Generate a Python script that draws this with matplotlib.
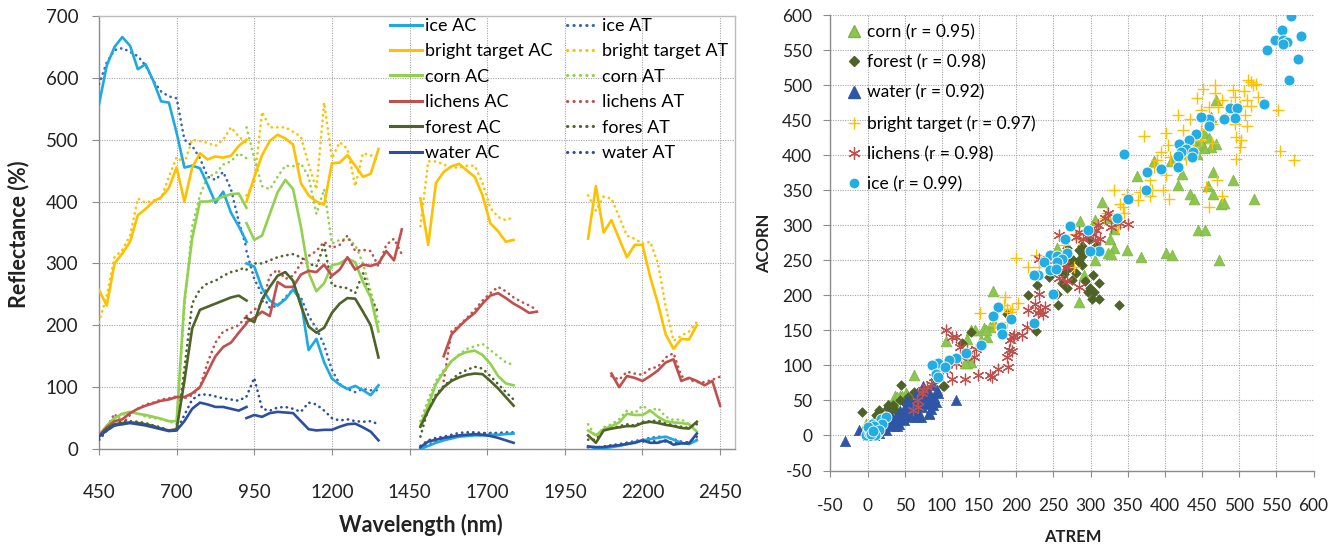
import numpy as np
import matplotlib
matplotlib.use('Agg')
import matplotlib.pyplot as plt
from matplotlib.lines import Line2D

plt.rcParams['font.family'] = ['Lato', 'DejaVu Sans']
plt.rcParams['axes.unicode_minus'] = False

N = np.nan
# ---------------- left chart: wavelength grids per detector segment ----------------
wl_a = list(range(450, 926, 25))     # 20 points
wl_b = list(range(925, 1426, 25))    # 21 points
wl_c = list(range(1485, 1861, 25))   # 16 points
wl_d = list(range(2025, 2451, 25))   # 18 points

ice_ac = ([557, 620, 650, 666, 652, 614, 622, 595, 562, 560, 511, 455, 458, 454, 427, 398, 416, 382, 360, 335]
          + [300, 295, 260, 240, 232, 242, 258, 240, 160, 178, 140, 114, 104, 97, 102, 95, 87, 103, N, N, N]
          + [0, 5, 10, 14, 17, 20, 21, 22, 22, 23, 23, 24, 25, N, N, N]
          + [4, 2, 1, 3, 5, 8, 11, 14, 16, 18, 20, 15, 10, 8, 14, N, N, N])
ice_at = ([590, 625, 645, 648, 642, 635, 620, 595, 578, 570, 567, 500, 490, 470, 440, 435, 448, 420, 368, 325]
          + [320, 275, 250, 228, 232, 245, 258, 245, 215, 195, 168, 128, 105, 97, 92, 97, 95, 95, N, N, N]
          + [2, 7, 12, 16, 19, 22, 23, 24, 25, 26, 26, 27, 27, N, N, N]
          + [3, 3, 3, 5, 7, 10, 13, 15, 18, 20, 19, 16, 12, 10, 15, N, N, N])
bt_ac = ([257, 232, 300, 316, 335, 378, 388, 400, 407, 422, 455, 400, 455, 478, 468, 473, 471, 474, 490, 500]
         + [400, 440, 475, 498, 508, 502, 492, 430, 410, 400, 395, 462, 463, 475, 458, 440, 445, 485, N, N, N]
         + [405, 330, 430, 448, 457, 461, 450, 440, 410, 365, 352, 335, 338, N, N, N]
         + [340, 425, 350, 370, 340, 310, 330, 330, 278, 235, 185, 162, 178, 177, 200, N, N, N])
bt_at = ([205, 248, 310, 322, 345, 405, 398, 402, 405, 440, 472, 462, 500, 498, 495, 490, 500, 520, 505, 495]
         + [410, 430, 545, 520, 520, 520, 513, 505, 460, 420, 560, 470, 496, 485, 425, 478, 475, 465, N, N, N]
         + [360, 465, 465, 460, 455, 455, 458, 458, 430, 390, 375, 370, 375, N, N, N]
         + [410, 385, 408, 405, 375, 345, 340, 332, 335, 300, 230, 175, 183, 190, 205, N, N, N])
corn_ac = ([22, 38, 50, 57, 60, 57, 55, 52, 49, 45, 45, 240, 340, 400, 400, 403, 408, 412, 413, 390]
           + [365, 338, 345, 380, 415, 435, 420, 360, 285, 255, 268, 297, 300, 308, 302, 270, 245, 190, N, N, N]
           + [38, 70, 105, 125, 142, 152, 157, 159, 152, 138, 118, 106, 103, N, N, N]
           + [30, 22, 32, 37, 43, 57, 55, 55, 62, 52, 45, 43, 42, 40, 28, N, N, N])
corn_at = ([20, 35, 45, 55, 60, 58, 52, 50, 48, 45, 40, 230, 360, 410, 440, 445, 460, 465, 478, 470]
           + [520, 470, 425, 420, 440, 458, 457, 462, 440, 380, 420, 332, 338, 340, 330, 300, 255, 205, N, N, N]
           + [45, 80, 110, 128, 142, 153, 162, 166, 170, 160, 150, 140, 136, N, N, N]
           + [40, 20, 35, 40, 48, 62, 58, 70, 62, 66, 52, 47, 48, 40, 34, N, N, N])
lich_ac = ([22, 35, 45, 48, 58, 65, 70, 74, 78, 80, 84, 84, 90, 100, 125, 150, 165, 172, 188, 203]
           + [205, 212, 222, 215, 270, 262, 262, 282, 288, 286, 298, 280, 290, 310, 290, 298, 296, 300, 320, 305, 355]
           + [N, N, N, 150, 185, 198, 210, 220, 235, 248, 252, 244, 235, 228, 220, 222]
           + [N, N, N, 122, 100, 118, 115, 110, 118, 127, 140, 145, 110, 115, 110, 103, 110, 70])
lich_at = ([25, 35, 57, 40, 55, 65, 72, 75, 80, 82, 85, 82, 87, 100, 140, 172, 190, 195, 200, 215]
           + [215, 225, 235, 280, 290, 275, 280, 300, 312, 320, 335, 325, 330, 345, 320, 322, 320, 295, 330, 340, 315]
           + [N, N, N, 110, 190, 200, 212, 225, 240, 252, 262, 255, 245, 238, 232, 225]
           + [N, N, N, 118, 112, 125, 122, 120, 130, 133, 148, 155, 118, 112, 108, 108, 112, 117])
forest_ac = ([20, 33, 40, 42, 43, 42, 40, 37, 33, 30, 32, 110, 195, 225, 230, 235, 240, 245, 248, 240]
             + [212, 205, 242, 262, 280, 286, 272, 232, 198, 188, 196, 220, 235, 244, 243, 222, 200, 148, N, N, N]
             + [36, 62, 85, 100, 110, 116, 120, 122, 121, 110, 98, 84, 70, N, N, N]
             + [22, 10, 30, 33, 35, 37, 37, 42, 44, 42, 39, 37, 34, 33, 44, N, N, N])
forest_at = ([15, 30, 40, 45, 45, 44, 42, 38, 35, 30, 30, 130, 235, 258, 268, 272, 280, 286, 289, 295]
             + [290, 300, 300, 305, 310, 313, 315, 310, 300, 295, 330, 265, 262, 260, 252, 285, 245, 220, N, N, N]
             + [20, 65, 88, 102, 112, 122, 128, 133, 130, 118, 105, 92, 80, N, N, N]
             + [15, 15, 30, 33, 37, 40, 38, 44, 45, 46, 42, 38, 36, 34, 40, N, N, N])
water_ac = ([20, 30, 38, 40, 42, 40, 38, 35, 32, 29, 30, 45, 65, 75, 72, 68, 68, 65, 62, 68]
            + [50, 55, 52, 58, 60, 59, 58, 45, 32, 30, 31, 31, 36, 40, 41, 35, 28, 14, N, N, N]
            + [3, 12, 15, 18, 20, 22, 23, 24, 23, 21, 18, 14, 10, N, N, N]
            + [4, 3, 3, 5, 6, 8, 10, 14, 10, 10, 14, 7, 9, 9, 25, N, N, N])
water_at = ([15, 30, 38, 42, 42, 42, 40, 37, 33, 30, 30, 55, 80, 88, 88, 85, 82, 80, 78, 85]
            + [85, 115, 65, 62, 67, 68, 65, 60, 75, 72, 62, 50, 46, 48, 45, 44, 45, 40, N, N, N]
            + [5, 14, 18, 20, 23, 26, 27, 27, 26, 25, 25, 25, 26, N, N, N]
            + [3, 2, 4, 6, 8, 10, 11, 12, 13, 12, 12, 10, 10, 11, 20, N, N, N])

left_xticks = [450, 700, 950, 1200, 1450, 1700, 1950, 2200, 2450]
left_yticks = [0, 100, 200, 300, 400, 500, 600, 700]

# ---------------- right chart: scatter ATREM vs ACORN ----------------
corn_x = [469, 462, 469, 462, 452, 443, 449, 436, 452, 460, 432, 443, 465, 423, 418, 458, 434, 439, 465, 475,
          479, 492, 520, 445, 454, 473, 402, 409, 368, 349, 385, 408, 363, 316, 286, 306, 324, 332, 326, 331,
          324, 255, 327, 306, 291, 284, 169, 105, 134, 139, 145, 157, 165, 170, 161, 153, 134, 139, 63, 37,
          44, 52, 27, 23, 8, -2, 131, 160, 39, 46, 53, 66, 35, 28, 23, 15, 4]
corn_y = [479, 455, 416, 412, 410, 414, 419, 421, 432, 424, 402, 402, 376, 373, 357, 356, 344, 337, 344, 330,
          332, 365, 337, 293, 293, 251, 261, 257, 254, 265, 391, 392, 370, 333, 306, 308, 310, 295, 280, 267,
          260, 268, 259, 250, 229, 191, 206, 135, 138, 150, 150, 154, 155, 160, 141, 136, 103, 105, 86, 57,
          57, 60, 43, 36, 22, 17, 103, 151, 55, 57, 58, 59, 48, 41, 32, 23, 11]
forest_x = [285, 276, 288, 269, 264, 262, 269, 255, 256, 293, 303, 312, 299, 304, 296, 302, 312, 338, 284, 244,
            228, 216, 227, 188, 139, 103, 45, -8, 15, 27, 298, 308, 275, 289, 288, 269, 284, 297, 290, 300,
            272, 265, 258, 280, 275, 12, 27, 34, 44, 54, 62, 5, 20, 38, 50, 30, 102, 127, 60, 70, 92]
forest_y = [264, 250, 243, 238, 231, 217, 210, 202, 186, 221, 229, 217, 210, 205, 205, 195, 195, 186, 248, 226,
            214, 200, 149, 174, 148, 70, 72, 33, 36, 43, 281, 270, 250, 261, 270, 267, 250, 282, 258, 262,
            240, 245, 235, 232, 222, 29, 39, 44, 51, 55, 62, 8, 22, 35, 46, 28, 70, 132, 45, 55, 80]
water_x = [-31, -11, 1, 10, 42, 49, 56, 68, 73, 83, 85, 95, 119, 80, 75, 66, 84, 88, 83, 40,
           48, 57, 70, 77, 88, 72, 66, 25, 16, 9, 33, 53, 60, 45, 30, 20, 35, 62, 90, 78,
           5, 12, 28, 38, 50, 58, 65, 70, 92, 86, 15, 22, 32, 44, 52, 55, 64, 67, 71, 79,
           82, 94, 62, 54, 46, 36]
water_y = [-8, 8, 1, 8, 17, 22, 36, 29, 41, 31, 53, 60, 51, 65, 70, 60, 51, 43, 32, 14,
           23, 32, 48, 60, 72, 27, 27, 8, 3, 1, 23, 51, 45, 30, 15, 10, 20, 38, 55, 45,
           3, 6, 18, 25, 35, 42, 50, 55, 48, 38, 12, 15, 28, 35, 44, 30, 40, 35, 44, 55,
           62, 65, 29, 27, 25, 13]
bright_x = [516, 519, 512, 523, 451, 467, 492, 506, 511, 467, 443, 477, 494, 525, 516, 501, 489, 472, 460, 448,
            418, 434, 552, 482, 508, 511, 494, 463, 480, 424, 448, 402, 404, 372, 496, 503, 501, 555, 574, 496,
            448, 463, 439, 395, 407, 414, 429, 390, 385, 402, 380, 397, 406, 380, 366, 364, 383, 470, 460, 477,
            455, 349, 332, 340, 344, 322, 320, 345, 308, 337, 284, 264, 279, 200, 227, 216, 230, 278, 185, 202,
            183, 187, 194, 192, 151, 187, 170]
bright_y = [505, 500, 507, 502, 495, 500, 493, 491, 479, 488, 481, 479, 483, 483, 470, 470, 471, 469, 469, 464,
            457, 452, 464, 457, 457, 441, 445, 445, 452, 436, 436, 431, 414, 428, 426, 421, 412, 406, 393, 395,
            421, 417, 412, 405, 398, 388, 395, 393, 383, 371, 364, 350, 338, 341, 348, 336, 350, 364, 326, 341,
            355, 345, 350, 331, 326, 317, 310, 317, 298, 298, 281, 272, 288, 253, 257, 241, 240, 240, 198, 189,
            186, 181, 181, 176, 175, 162, 157]
lich_x = [324, 320, 339, 351, 327, 308, 303, 313, 306, 284, 281, 257, 256, 230, 240, 250, 264, 257, 269, 284,
          230, 225, 232, 216, 214, 197, 192, 190, 187, 168, 175, 148, 131, 114, 105, 114, 124, 134, 143, 100,
          90, 80, 73, 66, 75, 85, 95, 107, 119, 126, 68, 61, 119, 146, 165, 189, 194, 196, 208, 229,
          236, 239, 268, 300, 295, 310, 290]
lich_y = [318, 310, 303, 302, 298, 293, 288, 281, 279, 291, 283, 286, 252, 252, 250, 240, 245, 224, 221, 212,
          202, 188, 179, 179, 155, 143, 136, 122, 112, 83, 95, 86, 81, 81, 150, 141, 126, 122, 112, 93,
          83, 69, 60, 50, 65, 74, 83, 93, 103, 112, 41, 36, 141, 124, 86, 98, 121, 141, 144, 175,
          173, 184, 241, 290, 285, 300, 280]
ice_x = [570, 558, 548, 559, 565, 559, 583, 538, 579, 567, 533, 488, 497, 494, 480, 460, 448, 460, 442, 432,
         419, 429, 438, 422, 418, 436, 418, 395, 376, 374, 351, 345, 335, 297, 273, 265, 311, 299, 245, 255,
         269, 262, 238, 255, 246, 254, 229, 224, 250, 224, 176, 169, 179, 181, 193, 152, 132, 119, 110, 95,
         87, 104, 92, 95, 1, 6, 18, 25, 9, -2, 12, 2, 20, 13, 5, 8, 3, 15, 0, 10, 4, 7]
ice_y = [598, 578, 564, 564, 562, 558, 570, 550, 537, 507, 473, 467, 467, 453, 451, 451, 454, 442, 430, 422,
         416, 409, 405, 405, 399, 397, 383, 380, 376, 350, 337, 402, 310, 293, 299, 280, 263, 263, 258, 256,
         260, 252, 247, 247, 236, 238, 229, 229, 202, 160, 183, 170, 155, 145, 166, 129, 117, 111, 107, 104,
         100, 98, 87, 83, 8, 17, 24, 27, 5, 1, 12, 3, 17, 3, 10, 14, 6, 8, 12, 0, 2, 7]
right_ticks = list(range(-50, 601, 50))

# ---------------- styling ----------------
C_ICE, C_ICE_AT = '#1DA9E1', '#3366BB'
C_BT, C_CORN, C_LICH, C_FOR = '#FFC000', '#92D050', '#C0504D', '#4F6228'
C_WAT, C_WAT_AT = '#2E4FA0', '#2E4FA0'
GRID = '#A6A6A6'
SPINE = '#8C8C8C'
DOT = (0, (0.1, 2.0))

fig = plt.figure(figsize=(13.44, 5.48), dpi=100)
W, H = 1344, 548
ax1 = fig.add_axes([99 / W, 1 - 449 / H, (735 - 99) / W, (449 - 16) / H])
ax2 = fig.add_axes([830.4 / W, 1 - 470.5 / H, (1313.5 - 830.4) / W, (470.5 - 15) / H])

segs = [wl_a, wl_b, wl_c, wl_d]

def plot_series(ax, vals, color, dotted):
    start = 0
    for wl in segs:
        v = vals[start:start + len(wl)]
        start += len(wl)
        if dotted:
            ax.plot(wl, v, color=color, lw=1.9, linestyle=DOT, dash_capstyle='round', zorder=3)
        else:
            ax.plot(wl, v, color=color, lw=1.9, solid_joinstyle='round', zorder=3)

series = [
    ('ice', ice_ac, ice_at, C_ICE, C_ICE_AT, 'ice AT'),
    ('bright target', bt_ac, bt_at, C_BT, C_BT, 'bright target AT'),
    ('corn', corn_ac, corn_at, C_CORN, C_CORN, 'corn AT'),
    ('lichens', lich_ac, lich_at, C_LICH, C_LICH, 'lichens AT'),
    ('forest', forest_ac, forest_at, C_FOR, C_FOR, 'fores AT'),
    ('water', water_ac, water_at, C_WAT, C_WAT_AT, 'water AT'),
]
for name, ac, at, c1, c2, _ in series:
    plot_series(ax1, at, c2, True)
for name, ac, at, c1, c2, _ in series:
    plot_series(ax1, ac, c1, False)

ax1.set_xlim(450, 2498)
ax1.set_ylim(0, 700)
ax1.set_xticks(left_xticks)
ax1.set_yticks(left_yticks)
ax1.tick_params(axis='x', labelsize=13.5, pad=21, length=4, color=SPINE, labelcolor='#222222')
ax1.tick_params(axis='y', labelsize=13.5, pad=10, length=5, color=SPINE, labelcolor='#222222')

# scatter
ax2.scatter(corn_x, corn_y, marker='^', s=60, facecolor='#8DC64F', edgecolor='#7DB443', linewidths=0.5, zorder=3)
ax2.scatter(forest_x, forest_y, marker='D', s=24, facecolor=C_FOR, edgecolor=C_FOR, linewidths=0.5, zorder=3)
ax2.scatter(water_x, water_y, marker='^', s=55, facecolor='#2F56A6', edgecolor='#2F56A6', linewidths=0.5, zorder=3)
ax2.scatter(bright_x, bright_y, marker='+', s=70, color=C_BT, linewidths=1.0, zorder=3)
ax2.scatter(lich_x, lich_y, marker=(6, 2, 0), s=60, color=C_LICH, linewidths=0.9, zorder=3)
ax2.scatter(ice_x, ice_y, marker='o', s=62, facecolor='#22AEE4', edgecolor='white', linewidths=0.6, zorder=4)

ax2.set_xlim(-50, 600)
ax2.set_ylim(-50, 600)
ax2.set_xticks(right_ticks)
ax2.set_yticks(right_ticks)
ax2.tick_params(axis='x', labelsize=12.5, pad=16, length=4, color=SPINE, labelcolor='#222222')
ax2.tick_params(axis='y', labelsize=12.5, pad=8, length=5, color=SPINE, labelcolor='#222222')

for ax in (ax1, ax2):
    ax.grid(True, color=GRID, linestyle=(0, (1, 1.2)), linewidth=0.8, zorder=0)
    ax.set_axisbelow(True)
    for sp in ax.spines.values():
        sp.set_color(SPINE)
        sp.set_linewidth(1.0)
for sp in ('top', 'right'):
    ax2.spines[sp].set_visible(False)
ax1.spines['top'].set_color('#BBBBBB')
ax1.spines['right'].set_color('#BBBBBB')

# axis titles
fig.text(421 / W, 1 - 525 / H, 'Wavelength (nm)', ha='center', va='center', fontsize=15.5, fontweight='bold', color='#222222')
fig.text(19 / W, 1 - 234 / H, 'Reflectance (%)', ha='center', va='center', rotation=90, fontsize=15.5, fontweight='bold', color='#222222')
fig.text(1073 / W, 1 - 537 / H, 'ATREM', ha='center', va='center', fontsize=12, fontweight='bold', color='#222222')
fig.text(764 / W, 1 - 243 / H, 'ACORN', ha='center', va='center', rotation=90, fontsize=12, fontweight='bold', color='#222222')

# legends left
h_ac = [Line2D([], [], color=c1, lw=2.2) for _, _, _, c1, _, _ in series]
l_ac = [n + ' AC' for n, _, _, _, _, _ in series]
h_at = [Line2D([], [], color=c2, lw=2.2, linestyle=DOT, dash_capstyle='round') for _, _, _, _, c2, _ in series]
l_at = [lab for _, _, _, _, _, lab in series]
common = dict(loc='upper left', frameon=False, fontsize=13, handlelength=1.75, handletextpad=0.2,
              labelspacing=0.52, borderpad=0, borderaxespad=0, bbox_transform=fig.transFigure)
fig.legend(h_ac, l_ac, bbox_to_anchor=(390 / W, 1 - 18 / H), **common)
fig.legend(h_at, l_at, bbox_to_anchor=(567 / W, 1 - 18 / H), **common)

# legend right
hs = [
    Line2D([], [], linestyle='none', marker='^', markersize=8, markerfacecolor='#8DC64F', markeredgecolor='#7DB443'),
    Line2D([], [], linestyle='none', marker='D', markersize=5, markerfacecolor=C_FOR, markeredgecolor=C_FOR),
    Line2D([], [], linestyle='none', marker='^', markersize=8, markerfacecolor='#2F56A6', markeredgecolor='#2F56A6'),
    Line2D([], [], linestyle='none', marker='+', markersize=9, color=C_BT, markeredgewidth=1.0),
    Line2D([], [], linestyle='none', marker=(6, 2, 0), markersize=9, color=C_LICH, markeredgewidth=0.9),
    Line2D([], [], linestyle='none', marker='o', markersize=8, markerfacecolor='#22AEE4', markeredgecolor='white'),
]
ls = ['corn (r = 0.95)', 'forest (r = 0.98)', 'water (r = 0.92)', 'bright target (r = 0.97)',
      'lichens (r = 0.98)', 'ice (r = 0.99)']
fig.legend(hs, ls, loc='upper left', frameon=False, fontsize=12.5, handlelength=0.9, handletextpad=0.3,
           labelspacing=0.82, borderpad=0, borderaxespad=0, bbox_to_anchor=(846 / W, 1 - 24 / H),
           bbox_transform=fig.transFigure)

fig.savefig('out.png', dpi=100)
